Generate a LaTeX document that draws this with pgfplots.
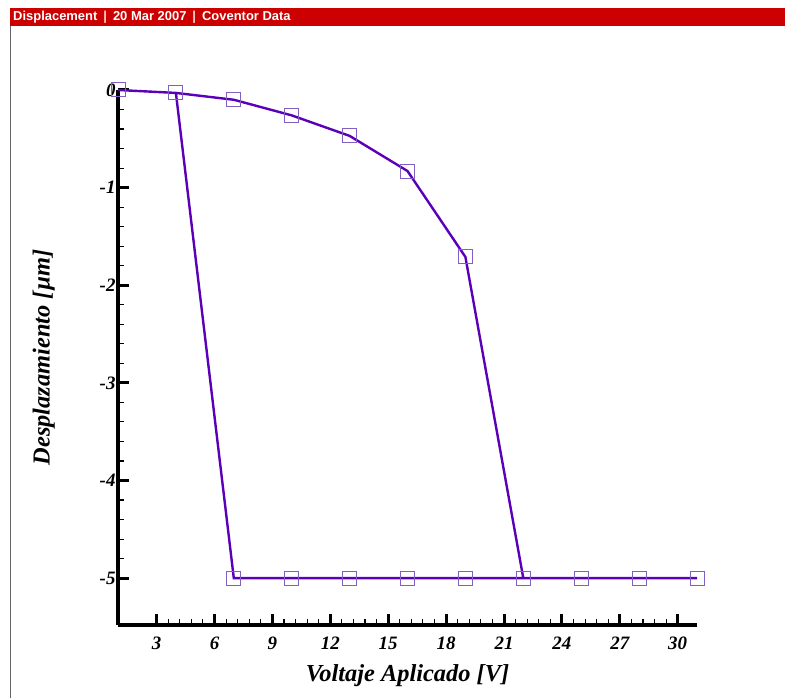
\documentclass[border=0pt]{standalone}
\usepackage{pgfplots}
\pgfplotsset{compat=1.18}
\usepackage{fontspec}
\setmainfont{Liberation Serif}
\newfontfamily\hdr{Liberation Sans}
\definecolor{hdrred}{RGB}{204,0,0}
\definecolor{lineP}{RGB}{90,0,185}
\definecolor{markP}{RGB}{130,95,195}
\begin{document}
\begin{tikzpicture}
\path[use as bounding box] (0,0) rectangle (785bp,698bp);
\fill[hdrred] (10bp,672bp) rectangle (785bp,690bp);
\draw[gray!80!black, line width=1.2bp] (10.5bp,0) -- (10.5bp,672bp);
\node[anchor=west, text=white, inner sep=0pt, font=\hdr\bfseries\fontsize{13}{13}\selectfont] at (13bp,681bp)
 {Displacement\hspace{6bp}\textcolor{white!85!red}{|}\hspace{6bp}20 Mar 2007\hspace{6bp}\textcolor{white!85!red}{|}\hspace{6bp}Coventor Data};
\begin{axis}[
  at={(118bp,608bp)}, anchor=north west,
  scale only axis, width=579bp, height=535bp,
  xmin=1, xmax=31, ymin=-5.48, ymax=0,
  axis x line*=bottom, axis y line*=left,
  every outer x axis line/.append style={line width=3.5bp, black},
  every outer y axis line/.append style={line width=3.5bp, black},
  axis line style={line width=3.5bp, black, -},
  xtick={3,6,...,30}, ytick={0,-1,-2,-3,-4,-5},
  minor x tick num=4, minor y tick num=4,
  tick align=inside,
  major tick length=11bp, minor tick length=6bp,
  major tick style={line width=3bp, black},
  minor tick style={line width=1.1bp, black},
  tick label style={font=\bfseries\itshape\fontsize{19}{19}\selectfont},
  /pgf/number format/assume math mode=true,
  xticklabel style={yshift=-8bp},
  yticklabel style={xshift=1bp},
  xlabel={Voltaje Aplicado [V]},
  ylabel={Desplazamiento [\textmu m]},
  label style={font=\bfseries\itshape\fontsize{24.5}{24.5}\selectfont},
  xlabel style={yshift=-8bp},
  ylabel style={yshift=38bp},
  clip=false,
]
\addplot[color=lineP, line width=2.4bp, mark=square, mark size=7bp,
  mark options={draw=markP, line width=1bp, fill=none}]
coordinates {
 (1,0) (4,-0.03) (7,-0.1) (10,-0.26) (13,-0.47) (16,-0.83) (19,-1.71)
 (22,-5) (25,-5) (28,-5) (31,-5)
 (28,-5) (25,-5) (22,-5) (19,-5) (16,-5) (13,-5) (10,-5) (7,-5)
 (4,-0.03) (1,0)
};
\end{axis}
\end{tikzpicture}
\end{document}
